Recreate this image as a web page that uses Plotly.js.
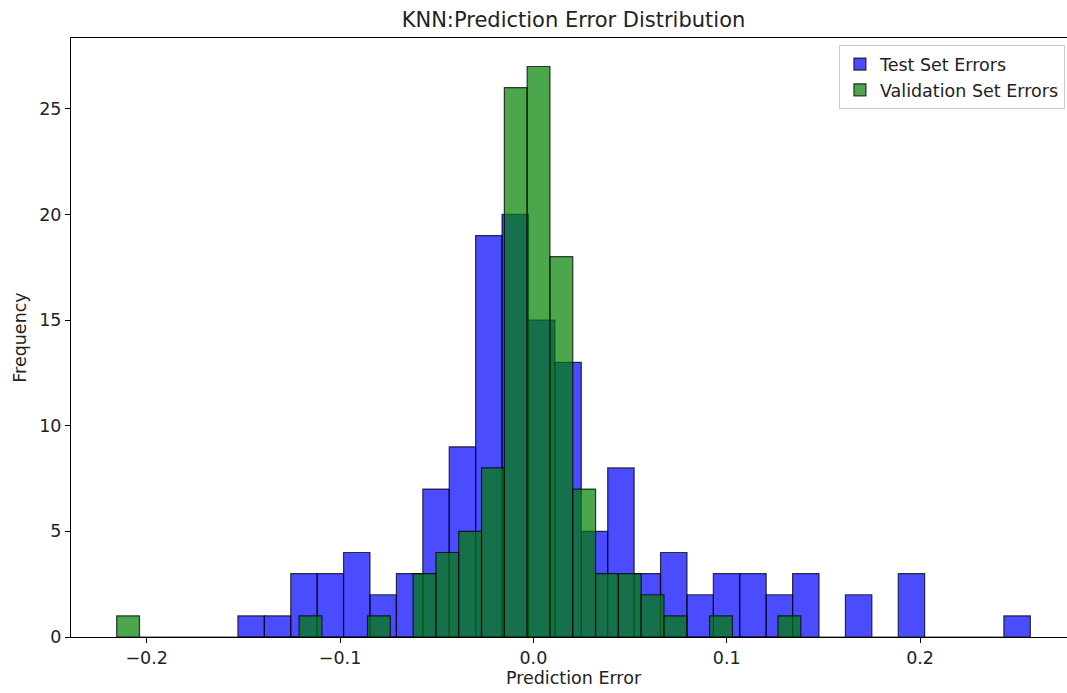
<!DOCTYPE html>
<html>
<head>
<meta charset="utf-8">
<script src="https://cdn.plot.ly/plotly-3.0.1.min.js"></script>
<style>
  html, body { margin: 0; padding: 0; overflow: hidden; background: #fff; }
  #chart { width: 1076px; height: 693px; }
</style>
</head>
<body>
<div id="chart"></div>
<script>
// Histogram range (min, max of each error set) and bin counts
const testRange = [-0.1528, 0.2570];
const testCounts = [1, 1, 3, 3, 4, 2, 3, 7, 9, 19, 20, 15, 13, 5, 8, 3, 4, 2, 3, 3, 2, 3, 0, 2, 0, 3, 0, 0, 0, 1];
const validRange = [-0.2155, 0.1383];
const validCounts = [1, 0, 0, 0, 0, 0, 0, 0, 1, 0, 0, 1, 0, 3, 4, 5, 8, 26, 27, 18, 7, 3, 3, 2, 1, 0, 1, 0, 0, 1];
const seriesNames = ["Test Set Errors", "Validation Set Errors"];
const xTickVals = [-0.2, -0.1, 0.0, 0.1, 0.2];
const xTickText = ["\u22120.2", "\u22120.1", "0.0", "0.1", "0.2"];
const yTickVals = [0, 5, 10, 15, 20, 25];

function binCenters(range, n) {
  const w = (range[1] - range[0]) / n;
  const c = [];
  for (let i = 0; i < n; i++) c.push(range[0] + w * (i + 0.5));
  return { centers: c, width: w };
}

const tb = binCenters(testRange, testCounts.length);
const vb = binCenters(validRange, validCounts.length);

const font = "DejaVu Sans, sans-serif";
const textColor = "#222";
const fs = 17.5;

const traces = [
  {
    type: "bar", name: seriesNames[0],
    x: tb.centers, y: testCounts, width: tb.width,
    marker: { color: "rgba(0,0,255,0.7)", line: { color: "rgba(0,0,0,0.75)", width: 1.2 } },
    hoverinfo: "x+y"
  },
  {
    type: "bar", name: seriesNames[1],
    x: vb.centers, y: validCounts, width: vb.width,
    marker: { color: "rgba(0,128,0,0.7)", line: { color: "rgba(0,0,0,0.75)", width: 1.2 } },
    hoverinfo: "x+y"
  }
];

const allMin = Math.min(testRange[0], validRange[0]);
const allMax = Math.max(testRange[1], validRange[1]);
const pad = (allMax - allMin) * 0.05;
const yMax = Math.max(...testCounts, ...validCounts) * 1.05;

const layout = {
  width: 1076, height: 693,
  margin: { l: 71, r: 0, t: 38, b: 56 },
  paper_bgcolor: "#fff", plot_bgcolor: "#fff",
  barmode: "overlay", bargap: 0,
  font: { family: font, size: fs, color: textColor },
  title: { text: "KNN:Prediction Error Distribution", x: 0.5, xref: "paper", y: 1 - 20 / 693, yanchor: "middle",
           font: { family: font, size: 21, color: textColor } },
  xaxis: {
    range: [allMin - pad, allMax + pad],
    tickvals: xTickVals, ticktext: xTickText,
    ticks: "outside", ticklen: 5, tickwidth: 1, tickcolor: "#000",
    showline: true, linecolor: "#000", linewidth: 1, mirror: true,
    showgrid: false, zeroline: false,
    tickfont: { family: font, size: fs, color: textColor },
    title: { text: "Prediction Error", standoff: 4, font: { family: font, size: fs, color: textColor } }
  },
  yaxis: {
    range: [0, yMax],
    tickvals: yTickVals,
    ticks: "outside", ticklen: 5, tickwidth: 1, tickcolor: "#000",
    showline: true, linecolor: "#000", linewidth: 1, mirror: true,
    showgrid: false, zeroline: false,
    tickfont: { family: font, size: fs, color: textColor },
    title: { text: "Frequency", standoff: 8, font: { family: font, size: fs, color: textColor } }
  },
  legend: {
    x: 0.989, xanchor: "right", y: 0.988, yanchor: "top",
    bgcolor: "rgba(255,255,255,0.8)", bordercolor: "#ccc", borderwidth: 1,
    font: { family: font, size: fs, color: textColor },
    tracegroupgap: 0
  },
  showlegend: true
};

Plotly.newPlot("chart", traces, layout, { displayModeBar: false, staticPlot: true });
</script>
</body>
</html>
